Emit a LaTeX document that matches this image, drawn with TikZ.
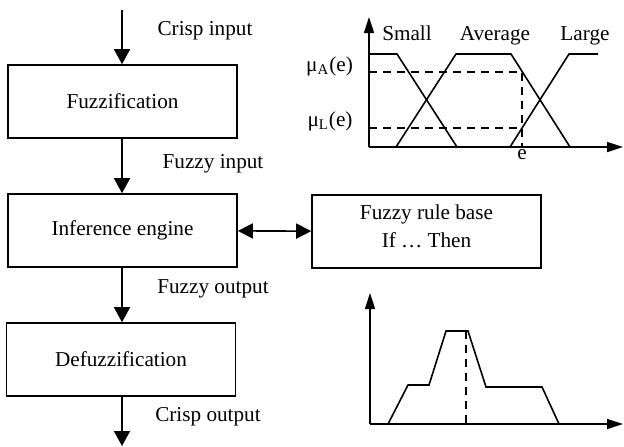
\documentclass[tikz,border=0pt]{standalone}
\usepackage{fontspec}
\setmainfont{Liberation Serif}
\usepackage{tikz}
\usetikzlibrary{arrows.meta,positioning,calc}

\tikzset{
  block/.style={draw,line width=0.8pt,minimum width=114.5pt,minimum height=36.5pt,inner sep=0pt},
  flow/.style={line width=0.8pt,-{Triangle[length=7.5pt,width=8pt]}},
  axis/.style={line width=0.8pt,-{Triangle[length=8pt,width=5pt]}},
  mf/.style={line width=0.8pt,line join=miter},
  guide/.style={line width=0.7pt,dash pattern=on 4pt off 3pt},
  lbl/.style={inner sep=0pt}
}

\begin{document}
\begin{tikzpicture}[x=0.5pt,y=-0.5pt,font=\fontsize{10.6}{14}\selectfont]
        \useasboundingbox (0,0) rectangle (624,446);
        % blocks of the controller
        \node[block] (fuzz)   at (122.5,101.5) {Fuzzification};
        \node[block] (infer)  at (122.5,230.5) {Inference engine};
        \node[block] (defuzz) at (121,359.5)   {Defuzzification};
        \node[block] (rules)  at (426.5,231.5) {};
        \node[lbl,align=center] (rulestxt) at (426.5,226) {Fuzzy rule base\\If \dots\ Then};
        \coordinate (in)  at (122,10);
        \coordinate (out) at (122,446);
        \draw[flow] (in) -- (in |- fuzz.north);
        \draw[flow] (fuzz.south -| in) -- (in |- infer.north);
        \draw[flow] (infer.south -| in) -- (in |- defuzz.north);
        \draw[flow] (defuzz.south -| out) -- (out);
        \draw[flow,{Triangle[length=7.5pt,width=7.5pt]}-{Triangle[length=7.5pt,width=7.5pt]}] (infer) -- (rules);
        \node[lbl] (crispin)  at (205,31)  {Crisp input};
        \node[lbl] (fuzzyin)  at (213,164) {Fuzzy input};
        \node[lbl] (fuzzyout) at (213,289) {Fuzzy output};
        \node[lbl] (crispout) at (208,417) {Crisp output};

        % membership functions
        \draw[axis] (369,147) -- (369,17);
        \draw[axis] (369,147) -- (623,147);
        \draw[mf] (369,54) -- (397,54) -- (457,147);
        \draw[mf] (396,147) -- (456,54) -- (511,54) -- (570,147);
        \draw[mf] (510,147) -- (569,54) -- (598,54);
        \draw[guide] (369,72) -- (522,72) -- (522,147);
        \draw[guide] (369,128) -- (522,128);
        \node[lbl,anchor=base] (small) at (407,40) {Small};
        \node[lbl,anchor=base] (avg)   at (495,40) {Average};
        \node[lbl,anchor=base] (large) at (585,40) {Large};
        \node[lbl] (muA) at (329.5,66)  {μ\textsubscript{A}(e)};
        \node[lbl] (muL) at (330,121)   {μ\textsubscript{L}(e)};
        \node[lbl] (e)   at (522,155)   {e};

        % defuzzified output set
        \draw[axis] (370,424) -- (370,293);
        \draw[axis] (370,424) -- (623,424);
        \draw[mf] (388,424) -- (408,385) -- (429,385) -- (446,331) -- (468,331)
          -- (486,387) -- (542,387) -- (559,424);
        \draw[guide] (466,331) -- (466,424);
\end{tikzpicture}
\end{document}
